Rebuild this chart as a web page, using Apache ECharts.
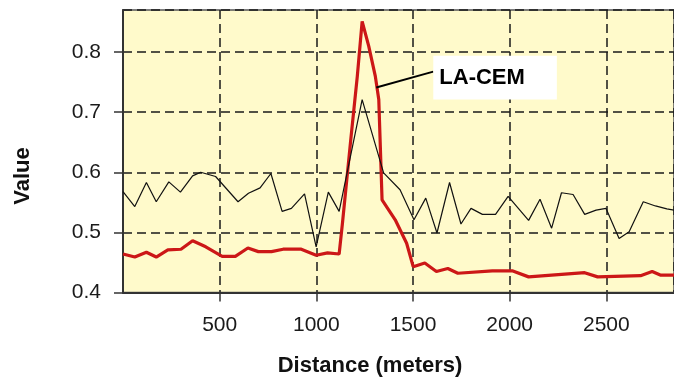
<!DOCTYPE html>
<html>
<head>
<meta charset="utf-8">
<script src="https://cdn.jsdelivr.net/npm/echarts@6/dist/echarts.min.js"></script>
<style>
  html, body { margin: 0; padding: 0; background: #fff; }
  #chart { width: 674px; height: 379px; }
</style>
</head>
<body>
<div id="chart"></div>
<script>
// thin black line: [distance, value]
const thinLine = [
  [0, 0.568], [61, 0.543], [121, 0.583], [172, 0.551], [237, 0.584], [297, 0.567],
  [360, 0.594], [402, 0.600], [479, 0.593], [595, 0.551], [649, 0.565], [709, 0.574],
  [765, 0.598], [823, 0.535], [871, 0.540], [939, 0.564], [999, 0.476], [1062, 0.567],
  [1118, 0.535], [1237, 0.721], [1348, 0.599], [1433, 0.571], [1505, 0.521], [1566, 0.557],
  [1624, 0.499], [1689, 0.583], [1748, 0.514], [1800, 0.540], [1859, 0.530], [1927, 0.530],
  [1992, 0.560], [2098, 0.520], [2157, 0.555], [2217, 0.507], [2268, 0.566], [2328, 0.563],
  [2388, 0.530], [2447, 0.537], [2498, 0.540], [2566, 0.490], [2618, 0.501], [2691, 0.551],
  [2754, 0.544], [2813, 0.539], [2850, 0.537]
];

// thick red line (LA-CEM)
const laCem = [
  [0, 0.464], [61, 0.459], [121, 0.467], [172, 0.459], [232, 0.471], [300, 0.472],
  [360, 0.486], [428, 0.476], [513, 0.460], [581, 0.460], [646, 0.474], [700, 0.468],
  [768, 0.468], [828, 0.472], [922, 0.472], [999, 0.462], [1058, 0.466], [1118, 0.464],
  [1135, 0.515], [1178, 0.654], [1212, 0.760], [1237, 0.851], [1271, 0.810], [1305, 0.760],
  [1323, 0.721], [1340, 0.554], [1408, 0.521], [1467, 0.482], [1501, 0.443], [1561, 0.449],
  [1621, 0.435], [1680, 0.440], [1732, 0.432], [1910, 0.436], [2013, 0.436], [2098, 0.426],
  [2217, 0.429], [2388, 0.433], [2455, 0.426], [2677, 0.428], [2737, 0.435], [2779, 0.429],
  [2850, 0.429]
];

const xTicks = [500, 1000, 1500, 2000, 2500];
const yTicks = [0.4, 0.5, 0.6, 0.7, 0.8];

const font = "'Liberation Sans', Arial, sans-serif";
const chart = echarts.init(document.getElementById('chart'));

chart.setOption({
  animation: false,
  grid: {
    left: 123, top: 10, right: -7, bottom: 86.5,
    show: true,
    backgroundColor: '#fffacb',
    borderColor: '#555',
    borderWidth: 1.5
  },
  xAxis: {
    type: 'value',
    min: 0, max: 2850, interval: 500,
    axisLine: { lineStyle: { color: '#333', width: 2 } },
    axisTick: { length: 9, lineStyle: { color: '#333', width: 1.5 } },
    axisLabel: {
      margin: 22, fontSize: 21, color: '#1a1a1a', fontFamily: font,
      showMinLabel: false, showMaxLabel: false,
      formatter: v => xTicks.includes(v) ? String(v) : ''
    },
    splitLine: { lineStyle: { type: [9, 5], color: '#1a1a1a', width: 1.5 } }
  },
  yAxis: {
    type: 'value',
    min: 0.4, max: 0.87, interval: 0.1,
    axisLine: { show: true, lineStyle: { color: '#333', width: 2 } },
    axisTick: { show: true, length: 9, lineStyle: { color: '#333', width: 1.5 } },
    axisLabel: {
      margin: 22, fontSize: 21, color: '#1a1a1a', fontFamily: font,
      showMaxLabel: false,
      formatter: v => {
        const t = yTicks.find(k => Math.abs(k - v) < 1e-6);
        return t === undefined ? '' : t.toFixed(1);
      }
    },
    splitLine: { lineStyle: { type: [9, 5], color: '#1a1a1a', width: 1.5 } }
  },
  series: [
    {
      name: 'LA-CEM', type: 'line', data: laCem, showSymbol: false, z: 2,
      lineStyle: { color: '#cc1717', width: 3.2 }
    },
    {
      name: 'thin', type: 'line', data: thinLine, showSymbol: false, z: 3,
      lineStyle: { color: '#111', width: 1.2 }
    }
  ]
});

// annotation placed in data coordinates
const px = p => chart.convertToPixel({ gridIndex: 0 }, p);
const a1 = px([1310, 0.741]);
const a2 = px([1605, 0.7675]);
const b1 = px([1605, 0.794]);
const b2 = px([2244, 0.721]);

chart.setOption({
  graphic: [
    {
      type: 'line', z: 10,
      shape: { x1: a1[0], y1: a1[1], x2: a2[0], y2: a2[1] },
      style: { stroke: '#000', lineWidth: 2 }
    },
    {
      type: 'rect', z: 10,
      shape: { x: b1[0], y: b1[1], width: b2[0] - b1[0], height: b2[1] - b1[1] },
      style: { fill: '#fff' }
    },
    {
      type: 'text', z: 11, x: b1[0] + 6, y: (b1[1] + b2[1]) / 2,
      style: { text: 'LA-CEM', font: 'bold 22px ' + font, fill: '#000', verticalAlign: 'middle' }
    },
    {
      type: 'text', x: 370, y: 366,
      style: { text: 'Distance (meters)', font: 'bold 22px ' + font, fill: '#111', align: 'center', verticalAlign: 'middle' }
    },
    {
      type: 'text', x: 23, y: 176, rotation: Math.PI / 2,
      style: { text: 'Value', font: 'bold 22px ' + font, fill: '#111', align: 'center', verticalAlign: 'middle' }
    }
  ]
});
</script>
</body>
</html>
